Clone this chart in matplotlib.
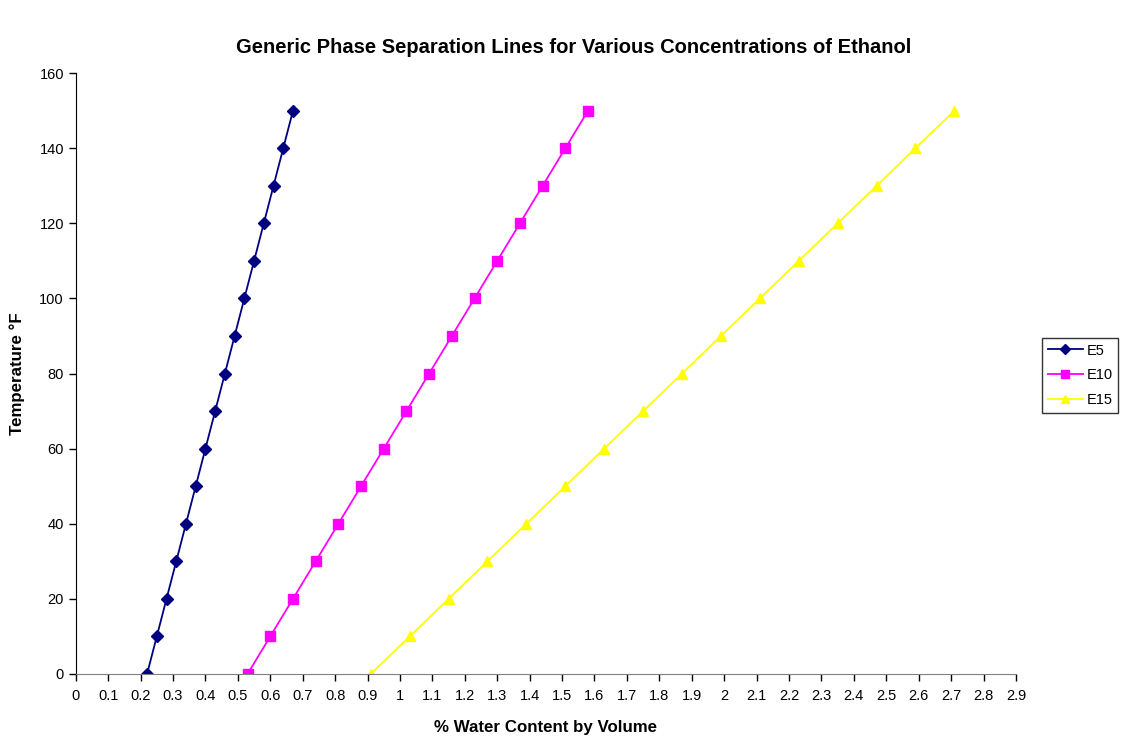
import matplotlib
matplotlib.use("Agg")
import matplotlib.pyplot as plt

plt.rcParams['font.family'] = ['Liberation Sans', 'DejaVu Sans']

temps = [0, 10, 20, 30, 40, 50, 60, 70, 80, 90, 100, 110, 120, 130, 140, 150]
e5 = [0.22, 0.25, 0.28, 0.31, 0.34, 0.37, 0.40, 0.43, 0.46, 0.49, 0.52, 0.55, 0.58, 0.61, 0.64, 0.67]
e10 = [0.53, 0.60, 0.67, 0.74, 0.81, 0.88, 0.95, 1.02, 1.09, 1.16, 1.23, 1.30, 1.37, 1.44, 1.51, 1.58]
e15 = [0.91, 1.03, 1.15, 1.27, 1.39, 1.51, 1.63, 1.75, 1.87, 1.99, 2.11, 2.23, 2.35, 2.47, 2.59, 2.71]
x_ticks = [0, 0.1, 0.2, 0.3, 0.4, 0.5, 0.6, 0.7, 0.8, 0.9, 1, 1.1, 1.2, 1.3, 1.4, 1.5, 1.6, 1.7, 1.8, 1.9,
           2, 2.1, 2.2, 2.3, 2.4, 2.5, 2.6, 2.7, 2.8, 2.9]
x_labels = ['0', '0.1', '0.2', '0.3', '0.4', '0.5', '0.6', '0.7', '0.8', '0.9', '1', '1.1', '1.2', '1.3',
            '1.4', '1.5', '1.6', '1.7', '1.8', '1.9', '2', '2.1', '2.2', '2.3', '2.4', '2.5', '2.6', '2.7',
            '2.8', '2.9']
y_ticks = [0, 20, 40, 60, 80, 100, 120, 140, 160]

fig = plt.figure(figsize=(11.22, 7.39), dpi=100)
ax = fig.add_axes([0.0675, 0.088, 0.838, 0.813])

ax.plot(e5, temps, color='#000080', marker='D', markersize=6, linewidth=1.3, label='E5')
ax.plot(e10, temps, color='#FF00FF', marker='s', markersize=7, linewidth=1.3, label='E10')
ax.plot(e15, temps, color='#FFFF00', marker='^', markersize=7, linewidth=1.3, label='E15')

ax.set_xlim(0, 2.9)
ax.set_ylim(0, 160)
ax.set_xticks(x_ticks)
ax.set_xticklabels(x_labels)
ax.set_yticks(y_ticks)
ax.tick_params(axis='both', direction='out', length=5, labelsize=10.5, width=1)
ax.tick_params(axis='x', pad=6)
ax.spines['top'].set_visible(False)
ax.spines['right'].set_visible(False)
ax.spines['bottom'].set_color('#808080')
ax.spines['left'].set_color('black')

ax.set_xlabel('% Water Content by Volume', fontsize=12.2, fontweight='bold', labelpad=12)
ax.set_ylabel('Temperature °F', fontsize=12.2, fontweight='bold', labelpad=10)

fig.text(0.511, 0.936, 'Generic Phase Separation Lines for Various Concentrations of Ethanol',
         ha='center', va='center', fontsize=14.5, fontweight='bold')

leg = ax.legend(loc='center left', bbox_to_anchor=(1.0275, 0.497),
                frameon=True, fancybox=False, edgecolor='black', fontsize=10.5,
                handlelength=2.4, borderpad=0.4, labelspacing=0.74, handletextpad=0.25,
                borderaxespad=0, markerscale=0.8)
leg.get_frame().set_linewidth(1)

fig.savefig('out.png', dpi=100)
